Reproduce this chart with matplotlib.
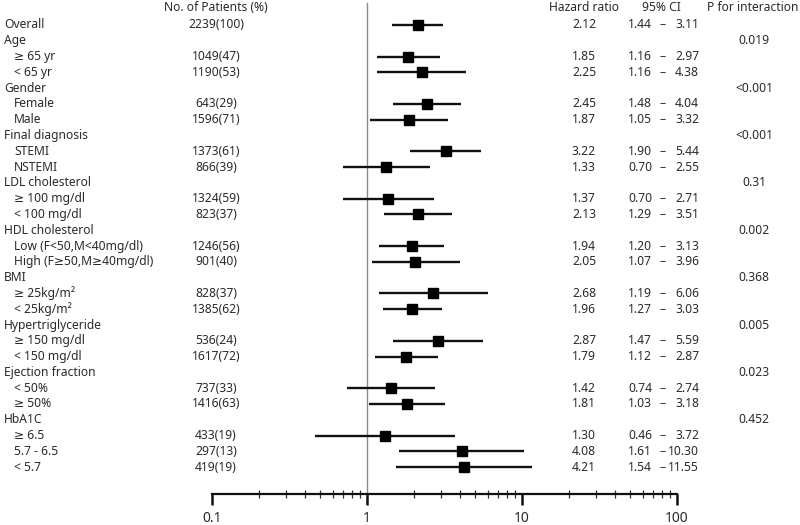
import matplotlib
matplotlib.use("Agg")
import matplotlib.pyplot as plt
import matplotlib.transforms as mtransforms
from matplotlib.ticker import LogLocator, FixedLocator, NullFormatter

plt.rcParams['font.family'] = ['Noto Sans', 'DejaVu Sans']

# ---- data ----
labels = ["Overall", "Age", "≥ 65 yr", "< 65 yr", "Gender", "Female", "Male",
          "Final diagnosis", "STEMI", "NSTEMI", "LDL cholesterol", "≥ 100 mg/dl", "< 100 mg/dl",
          "HDL cholesterol", "Low (F<50,M<40mg/dl)", "High (F≥50,M≥40mg/dl)",
          "BMI", "≥ 25kg/m²", "< 25kg/m²", "Hypertriglyceride", "≥ 150 mg/dl", "< 150 mg/dl",
          "Ejection fraction", "< 50%", "≥ 50%", "HbA1C", "≥ 6.5", "5.7 - 6.5", "< 5.7"]
is_sub = [False, False, True, True, False, True, True,
          False, True, True, False, True, True,
          False, True, True,
          False, True, True, False, True, True,
          False, True, True, False, True, True, True]
n_patients = ["2239(100)", "", "1049(47)", "1190(53)", "", "643(29)", "1596(71)",
              "", "1373(61)", "866(39)", "", "1324(59)", "823(37)",
              "", "1246(56)", "901(40)",
              "", "828(37)", "1385(62)", "", "536(24)", "1617(72)",
              "", "737(33)", "1416(63)", "", "433(19)", "297(13)", "419(19)"]
hr = [2.12, None, 1.85, 2.25, None, 2.45, 1.87,
      None, 3.22, 1.33, None, 1.37, 2.13,
      None, 1.94, 2.05,
      None, 2.68, 1.96, None, 2.87, 1.79,
      None, 1.42, 1.81, None, 1.30, 4.08, 4.21]
ci_lo = [1.44, None, 1.16, 1.16, None, 1.48, 1.05,
         None, 1.90, 0.70, None, 0.70, 1.29,
         None, 1.20, 1.07,
         None, 1.19, 1.27, None, 1.47, 1.12,
         None, 0.74, 1.03, None, 0.46, 1.61, 1.54]
ci_hi = [3.11, None, 2.97, 4.38, None, 4.04, 3.32,
         None, 5.44, 2.55, None, 2.71, 3.51,
         None, 3.13, 3.96,
         None, 6.06, 3.03, None, 5.59, 2.87,
         None, 2.74, 3.18, None, 3.72, 10.30, 11.55]
p_interaction = ["", "0.019", "", "", "<0.001", "", "",
                 "<0.001", "", "", "0.31", "", "",
                 "0.002", "", "",
                 "0.368", "", "", "0.005", "", "",
                 "0.023", "", "", "0.452", "", "", ""]
x_ticks = [0.1, 1, 10, 100]
x_tick_labels = ["0.1", "1", "10", "100"]

# ---- figure ----
W, H = 800, 525
fig = plt.figure(figsize=(W / 100, H / 100), dpi=100)
ax_bottom_px = 494
ax = fig.add_axes([212 / W, (H - ax_bottom_px) / H, (677 - 212) / W, ax_bottom_px / H])
ax.set_xscale('log')
ax.set_xlim(0.1, 100)
ax.set_ylim(29.7, -1.58)

txt_color = '#2a2a2a'
fs = 8.7

for i in range(len(labels)):
    if hr[i] is not None:
        ax.plot([ci_lo[i], ci_hi[i]], [i, i], color='#111111', lw=1.7, solid_capstyle='butt', zorder=3)
        ax.plot([hr[i]], [i], marker='s', color='black', markersize=7.8, zorder=4)

ax.plot([1, 1], [-1.4, 29.7], color='#8a8a8a', lw=1.0, zorder=2, clip_on=False)

for s in ['top', 'right', 'left']:
    ax.spines[s].set_visible(False)
ax.spines['bottom'].set_linewidth(1.6)
ax.spines['bottom'].set_color('#111111')
ax.set_yticks([])
ax.xaxis.set_major_locator(FixedLocator(x_ticks))
ax.set_xticklabels(x_tick_labels)
ax.xaxis.set_minor_locator(LogLocator(base=10, subs=range(2, 10)))
ax.xaxis.set_minor_formatter(NullFormatter())
ax.tick_params(axis='x', which='major', direction='out', length=8, width=1.8,
               color='#111111', labelsize=10, labelcolor=txt_color, pad=4)
ax.tick_params(axis='x', which='minor', direction='inout', length=6, width=0.9, color='#333333')

trans = mtransforms.blended_transform_factory(fig.transFigure, ax.transData)

def fx(px):
    return px / W

header_y = -1.08
ax.text(fx(216), header_y, "No. of Patients (%)", transform=trans, ha='center', va='center',
        fontsize=fs, color=txt_color)
ax.text(fx(584), header_y, "Hazard ratio", transform=trans, ha='center', va='center',
        fontsize=fs, color=txt_color)
ax.text(fx(661), header_y, "95% CI", transform=trans, ha='center', va='center',
        fontsize=fs, color=txt_color)
ax.text(fx(753), header_y, "P for interaction", transform=trans, ha='center', va='center',
        fontsize=fs, color=txt_color)

for i in range(len(labels)):
    x0 = 14 if is_sub[i] else 4
    ax.text(fx(x0), i, labels[i], transform=trans, ha='left', va='center', fontsize=fs, color=txt_color)
    if n_patients[i]:
        ax.text(fx(216), i, n_patients[i], transform=trans, ha='center', va='center',
                fontsize=fs, color=txt_color)
    if hr[i] is not None:
        ax.text(fx(584), i, f"{hr[i]:.2f}", transform=trans, ha='center', va='center',
                fontsize=fs, color=txt_color)
        ax.text(fx(628), i, f"{ci_lo[i]:.2f}", transform=trans, ha='left', va='center',
                fontsize=fs, color=txt_color)
        ax.text(fx(663), i, "–", transform=trans, ha='center', va='center',
                fontsize=fs, color=txt_color)
        ax.text(fx(699), i, f"{ci_hi[i]:.2f}", transform=trans, ha='right', va='center',
                fontsize=fs, color=txt_color)
    if p_interaction[i]:
        ax.text(fx(754), i, p_interaction[i], transform=trans, ha='center', va='center',
                fontsize=fs, color=txt_color)

fig.savefig("out.png", dpi=100, facecolor='white')
